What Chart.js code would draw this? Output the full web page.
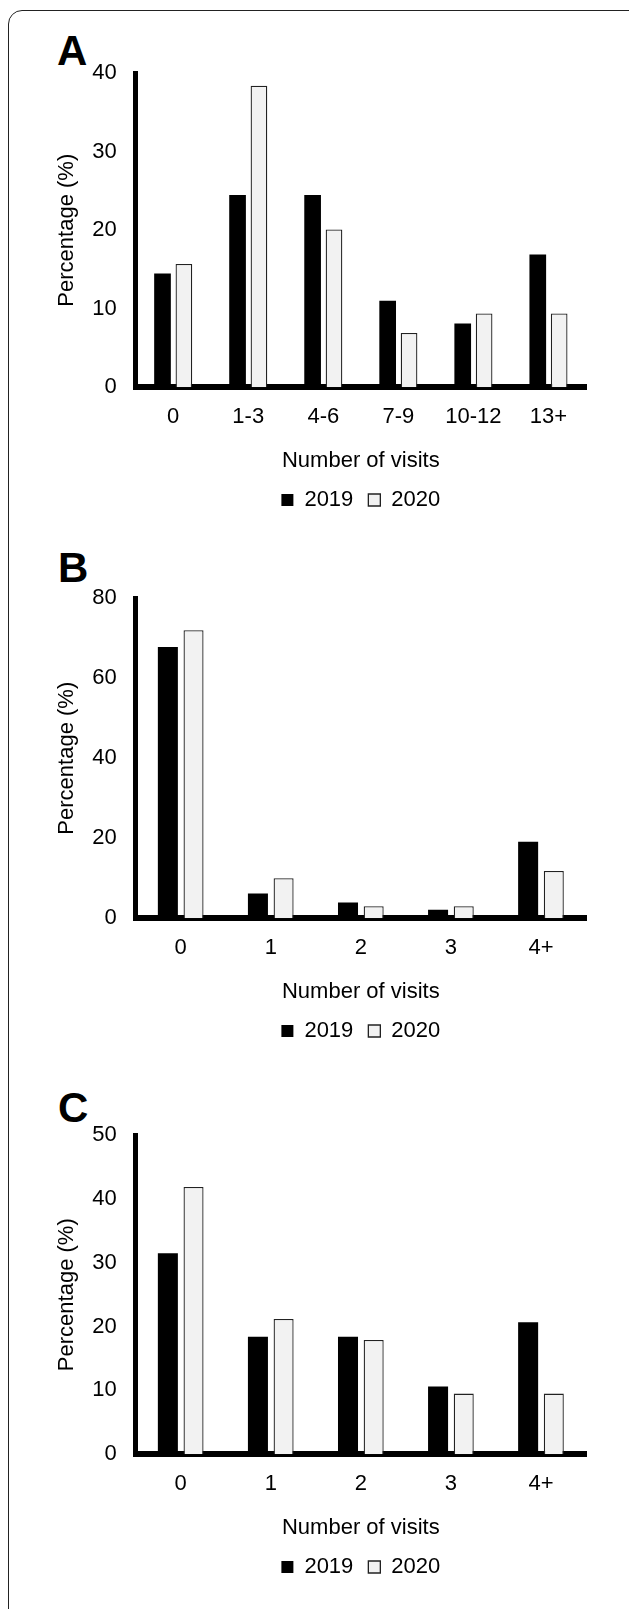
<!DOCTYPE html>
<html>
<head>
<meta charset="utf-8">
<script src="https://cdn.jsdelivr.net/npm/chart.js@4.4.1/dist/chart.umd.min.js"></script>
<style>
  html, body { margin: 0; padding: 0; background: #fff; }
  body { width: 629px; height: 1609px; position: relative; overflow: hidden; font-family: "Liberation Sans", Arial, sans-serif; }
  .frame { position: absolute; left: 8px; top: 10px; width: 640px; height: 1620px; border: 1.5px solid #222; border-radius: 14px; box-sizing: border-box; }
  .letter { position: absolute; font-weight: bold; font-size: 42px; line-height: 1; color: #000; }
  canvas { position: absolute; }
</style>
</head>
<body>
<div class="frame"></div>
<div class="letter" style="left:57px; top:30px;">A</div>
<div class="letter" style="left:58px; top:547px;">B</div>
<div class="letter" style="left:58px; top:1087px;">C</div>
<canvas id="chartA" width="560" height="484" style="left:40px; top:41px; width:560px; height:484px;"></canvas>
<canvas id="chartB" width="560" height="490" style="left:40px; top:566px; width:560px; height:490px;"></canvas>
<canvas id="chartC" width="560" height="489" style="left:40px; top:1103px; width:560px; height:489px;"></canvas>
<script>
// ---- Data ----
const seriesLabels = ['2019', '2020'];

const categoriesA = ['0', '1-3', '4-6', '7-9', '10-12', '13+'];
const values2019A = [14.5, 24.5, 24.5, 11.0, 8.1, 16.9];
const values2020A = [15.7, 38.4, 20.1, 6.9, 9.4, 9.4];

const categoriesB = ['0', '1', '2', '3', '4+'];
const values2019B = [67.8, 6.2, 3.9, 2.1, 19.1];
const values2020B = [72.0, 10.0, 3.0, 3.0, 11.8];

const categoriesC = ['0', '1', '2', '3', '4+'];
const values2019C = [31.5, 18.4, 18.4, 10.6, 20.7];
const values2020C = [41.9, 21.2, 17.9, 9.5, 9.5];

const yMaxA = 40, yStepA = 10;
const yMaxB = 80, yStepB = 20;
const yMaxC = 50, yStepC = 10;

const xTitle = 'Number of visits';
const yTitle = 'Percentage (%)';

// ---- Chart ----
const FAMILY = '"Liberation Sans", Arial, sans-serif';

function makeChart(id, categories, v2019, v2020, yMax, yStep) {
  const ctx = document.getElementById(id).getContext('2d');
  return new Chart(ctx, {
    type: 'bar',
    data: {
      labels: categories,
      datasets: [
        {
          label: seriesLabels[0],
          data: v2019,
          backgroundColor: '#000000',
          borderColor: '#000000',
          borderWidth: 0,
          categoryPercentage: 0.57,
          barPercentage: 0.78
        },
        {
          label: seriesLabels[1],
          data: v2020,
          backgroundColor: '#f2f2f2',
          borderColor: '#222222',
          borderWidth: 1.3,
          categoryPercentage: 0.57,
          barPercentage: 0.78
        }
      ]
    },
    options: {
      responsive: false,
      animation: false,
      devicePixelRatio: 1,
      layout: { padding: { top: 0, left: 20, right: 14, bottom: 4 } },
      plugins: {
        tooltip: { enabled: false },
        legend: {
          position: 'bottom',
          fullSize: false,
          labels: {
            boxWidth: 12,
            boxHeight: 12,
            padding: 15,
            color: '#000',
            font: { size: 22, family: FAMILY }
          }
        }
      },
      scales: {
        x: {
          z: 1,
          grid: { display: false, drawTicks: false },
          border: { display: true, width: 6, color: '#000' },
          ticks: { padding: 17, color: '#000', font: { size: 22, family: FAMILY } },
          title: {
            display: true,
            text: xTitle,
            color: '#000',
            font: { size: 22, family: FAMILY },
            padding: { top: 0, bottom: 0 }
          }
        },
        y: {
          z: 1,
          min: 0,
          max: yMax,
          grid: { display: false, drawTicks: false },
          border: { display: true, width: 5, color: '#000' },
          ticks: { stepSize: yStep, padding: 19, color: '#000', font: { size: 22, family: FAMILY } },
          title: {
            display: true,
            text: yTitle,
            color: '#000',
            font: { size: 22, family: FAMILY, lineHeight: 0.6 },
            padding: { top: 0, bottom: 0 }
          }
        }
      }
    }
  });
}

makeChart('chartA', categoriesA, values2019A, values2020A, yMaxA, yStepA);
makeChart('chartB', categoriesB, values2019B, values2020B, yMaxB, yStepB);
makeChart('chartC', categoriesC, values2019C, values2020C, yMaxC, yStepC);
</script>
</body>
</html>
